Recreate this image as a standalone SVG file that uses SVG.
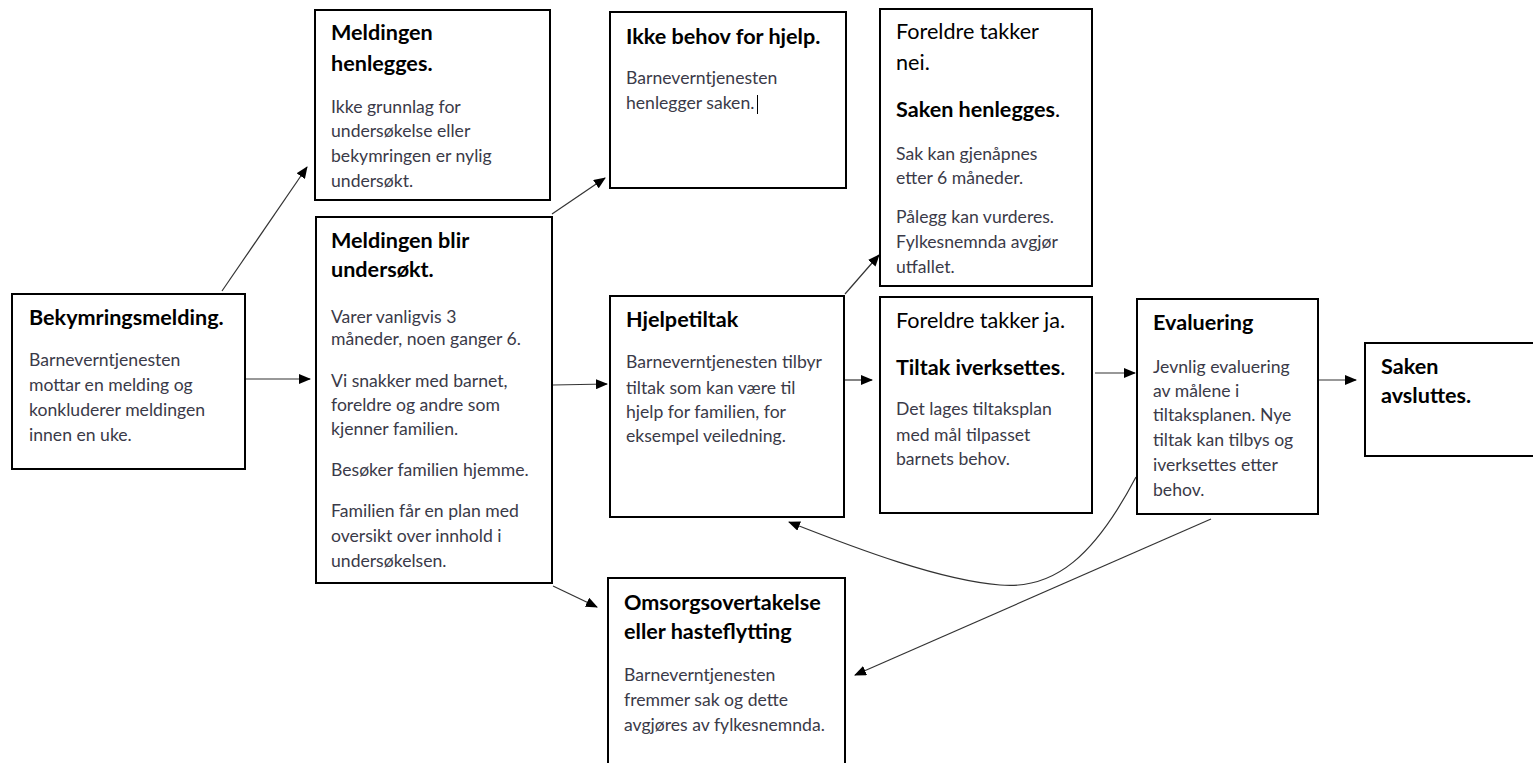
<svg xmlns="http://www.w3.org/2000/svg" width="1533" height="763" viewBox="0 0 1533 763">
<style>
.box{fill:#fff;stroke:#000;stroke-width:2}
.t{font-family:Lato,"Open Sans",sans-serif;font-weight:bold;font-size:21.6px;fill:#000}
.h{font-family:Lato,"Open Sans",sans-serif;font-size:21.6px;fill:#000}
.b{font-family:Lato,"Open Sans",sans-serif;font-size:17.6px;fill:#3a3a48}
.c{fill:none;stroke:#333;stroke-width:1.2}
</style>
<defs>
<marker id="ah" viewBox="0 0 12 10" refX="11" refY="5" markerWidth="12" markerHeight="10" markerUnits="userSpaceOnUse" orient="auto">
<path d="M0,0 L12,5 L0,10 Z" fill="#000"/>
</marker>
</defs>
<rect width="1533" height="763" fill="#fff"/>
<g id="connectors">
<line class="c" x1="222" y1="291" x2="307" y2="167" marker-end="url(#ah)"/>
<line class="c" x1="245" y1="379" x2="310" y2="379" marker-end="url(#ah)"/>
<line class="c" x1="552" y1="214" x2="605" y2="178" marker-end="url(#ah)"/>
<line class="c" x1="553" y1="385" x2="607" y2="384" marker-end="url(#ah)"/>
<line class="c" x1="553" y1="586" x2="597" y2="607" marker-end="url(#ah)"/>
<line class="c" x1="845" y1="294" x2="879" y2="255" marker-end="url(#ah)"/>
<line class="c" x1="845" y1="380" x2="872" y2="380" marker-end="url(#ah)"/>
<line class="c" x1="1095" y1="373" x2="1135" y2="373" marker-end="url(#ah)"/>
<line class="c" x1="1318" y1="380" x2="1356" y2="380" marker-end="url(#ah)"/>
<line class="c" x1="1211" y1="519" x2="855" y2="675" marker-end="url(#ah)"/>
<path class="c" d="M1136,477 C1095,555 1055,590 1000,585 C940,580 860,550 789,522" marker-end="url(#ah)"/>
</g>
<g id="bekymring">
<rect class="box" x="12" y="294" width="233" height="175"/>
<text class="t" x="29" y="325">Bekymringsmelding.</text>
<text class="b" x="29" y="366">Barneverntjenesten</text>
<text class="b" x="29" y="391">mottar en melding og</text>
<text class="b" x="29" y="416">konkluderer meldingen</text>
<text class="b" x="29" y="441">innen en uke.</text>
</g>
<g id="henlegges">
<rect class="box" x="315" y="10" width="235" height="190"/>
<text class="t" x="331" y="40">Meldingen</text>
<text class="t" x="331" y="71">henlegges.</text>
<text class="b" x="331" y="113">Ikke grunnlag for</text>
<text class="b" x="331" y="137">undersøkelse eller</text>
<text class="b" x="331" y="162">bekymringen er nylig</text>
<text class="b" x="331" y="187">undersøkt.</text>
</g>
<g id="undersokt">
<rect class="box" x="316" y="217" width="236" height="366"/>
<text class="t" x="331" y="248">Meldingen blir</text>
<text class="t" x="331" y="277">undersøkt.</text>
<text class="b" x="331" y="323">Varer vanligvis 3</text>
<text class="b" x="331" y="345">måneder, noen ganger 6.</text>
<text class="b" x="331" y="387">Vi snakker med barnet,</text>
<text class="b" x="331" y="411">foreldre og andre som</text>
<text class="b" x="331" y="435">kjenner familien.</text>
<text class="b" x="331" y="476">Besøker familien hjemme.</text>
<text class="b" x="331" y="517">Familien får en plan med</text>
<text class="b" x="331" y="542">oversikt over innhold i</text>
<text class="b" x="331" y="567">undersøkelsen.</text>
</g>
<g id="ikkebehov">
<rect class="box" x="610" y="12" width="236" height="176"/>
<text class="t" x="626" y="44">Ikke behov for hjelp.</text>
<text class="b" x="626" y="84">Barneverntjenesten</text>
<text class="b" x="626" y="109">henlegger saken.</text>
<line x1="757.5" y1="95" x2="757.5" y2="114" stroke="#000" stroke-width="1"/>
</g>
<g id="takkernei">
<rect class="box" x="880" y="9" width="212" height="277"/>
<text class="h" x="896" y="39">Foreldre takker</text>
<text class="h" x="896" y="70">nei.</text>
<text class="t" x="896" y="117">Saken henlegges<tspan font-weight="normal">.</tspan></text>
<text class="b" x="896" y="160">Sak kan gjenåpnes</text>
<text class="b" x="896" y="184">etter 6 måneder.</text>
<text class="b" x="896" y="223">Pålegg kan vurderes.</text>
<text class="b" x="896" y="248">Fylkesnemnda avgjør</text>
<text class="b" x="896" y="273">utfallet.</text>
</g>
<g id="hjelpetiltak">
<rect class="box" x="610" y="296" width="234" height="221"/>
<text class="t" x="626" y="327">Hjelpetiltak</text>
<text class="b" x="626" y="368">Barneverntjenesten tilbyr</text>
<text class="b" x="626" y="394">tiltak som kan være til</text>
<text class="b" x="626" y="418">hjelp for familien, for</text>
<text class="b" x="626" y="442">eksempel veiledning.</text>
</g>
<g id="takkerja">
<rect class="box" x="880" y="297" width="212" height="216"/>
<text class="h" x="896" y="328">Foreldre takker ja.</text>
<text class="t" x="896" y="375">Tiltak iverksettes<tspan font-weight="normal">.</tspan></text>
<text class="b" x="896" y="415">Det lages tiltaksplan</text>
<text class="b" x="896" y="441">med mål tilpasset</text>
<text class="b" x="896" y="465">barnets behov.</text>
</g>
<g id="evaluering">
<rect class="box" x="1137" y="299" width="181" height="215"/>
<text class="t" x="1153" y="330">Evaluering</text>
<text class="b" x="1153" y="373">Jevnlig evaluering</text>
<text class="b" x="1153" y="397">av målene i</text>
<text class="b" x="1153" y="421">tiltaksplanen. Nye</text>
<text class="b" x="1153" y="446">tiltak kan tilbys og</text>
<text class="b" x="1153" y="471">iverksettes etter</text>
<text class="b" x="1153" y="496">behov.</text>
</g>
<g id="avsluttes">
<rect class="box" x="1365" y="343" width="170" height="113"/>
<text class="t" x="1381" y="374">Saken</text>
<text class="t" x="1381" y="403">avsluttes.</text>
</g>
<g id="omsorg">
<rect class="box" x="608" y="578" width="237" height="190"/>
<text class="t" x="624" y="610">Omsorgsovertakelse</text>
<text class="t" x="624" y="639">eller hasteflytting</text>
<text class="b" x="624" y="681">Barneverntjenesten</text>
<text class="b" x="624" y="706">fremmer sak og dette</text>
<text class="b" x="624" y="731">avgjøres av fylkesnemnda.</text>
</g>
</svg>
